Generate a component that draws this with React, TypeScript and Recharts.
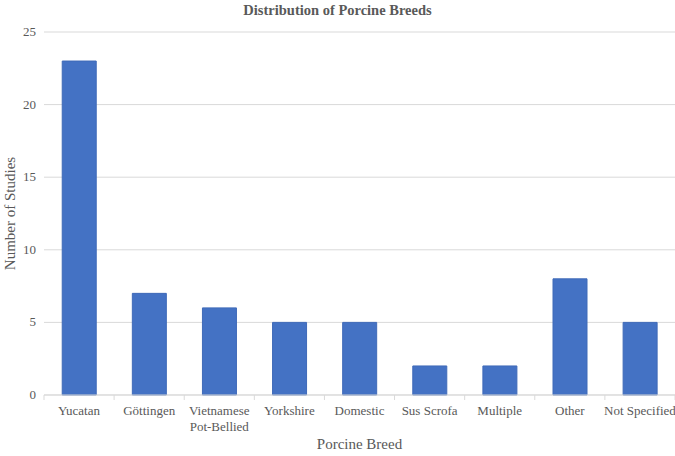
import React from 'react';
import { BarChart, Bar, XAxis, YAxis, CartesianGrid, Label } from 'recharts';

const breeds = [
  'Yucatan',
  'Göttingen',
  'Vietnamese Pot-Bellied',
  'Yorkshire',
  'Domestic',
  'Sus Scrofa',
  'Multiple',
  'Other',
  'Not Specified',
];
const studies = [23, 7, 6, 5, 5, 2, 2, 8, 5];
const yTicks = [0, 5, 10, 15, 20, 25];

const data = breeds.map((breed, i) => ({ breed, count: studies[i] }));

const font = '"Liberation Serif", "Times New Roman", serif';
const grey = '#595959';
const barColor = '#4472C4';

const CHART_W = 675;
const CHART_H = 456;
const Y_W = 44;
const band = (CHART_W - Y_W) / breeds.length;

// category labels, split on the space in long names like Excel does
const BreedTick = (props: any) => {
  const { x, y, payload } = props;
  const text: string = payload.value;
  const lines = text === 'Vietnamese Pot-Bellied' ? ['Vietnamese', 'Pot-Bellied'] : [text];
  return (
    <g>
      <line x1={x - band / 2} x2={x - band / 2} y1={y - 8} y2={y - 3} stroke="#d9d9d9" />
      {payload.index === breeds.length - 1 && (
        <line x1={x + band / 2} x2={x + band / 2} y1={y - 8} y2={y - 3} stroke="#d9d9d9" />
      )}
      <text x={x} y={y + 12} textAnchor="middle" fill={grey} fontSize={13} style={{ fontFamily: font }}>
        {lines.map((l, i) => (
          <tspan key={i} x={x} dy={i === 0 ? 0 : 16}>
            {l}
          </tspan>
        ))}
      </text>
    </g>
  );
};

const YTick = (props: any) => {
  const { x, y, payload } = props;
  return (
    <text x={x} y={y} dy={4} textAnchor="end" fill={grey} fontSize={13} style={{ fontFamily: font }}>
      {payload.value}
    </text>
  );
};

export default function App() {
  return (
    <div
      style={{
        position: 'absolute',
        left: 0,
        top: 0,
        width: CHART_W,
        height: CHART_H,
        background: '#fff',
        fontFamily: font,
      }}
    >
      <div
        style={{
          position: 'absolute',
          top: 2,
          width: CHART_W,
          textAlign: 'center',
          fontWeight: 'bold',
          fontSize: 14.5,
          color: grey,
        }}
      >
        Distribution of Porcine Breeds
      </div>
      <BarChart
        width={CHART_W}
        height={CHART_H}
        data={data}
        margin={{ top: 32, right: 0, left: 0, bottom: 26 }}
        barCategoryGap="26%"
      >
        <CartesianGrid vertical={false} stroke="#d9d9d9" />
        <XAxis
          dataKey="breed"
          interval={0}
          tickLine={false}
          axisLine={{ stroke: '#d9d9d9' }}
          tick={<BreedTick />}
          height={35}
        >
          <Label
            value="Porcine Breed"
            position="insideBottom"
            offset={-19}
            fill={grey}
            fontSize={15}
            style={{ fontFamily: font }}
          />
        </XAxis>
        <YAxis
          width={Y_W}
          domain={[0, 25]}
          ticks={yTicks}
          axisLine={false}
          tickLine={false}
          tick={<YTick />}
        >
          <Label
            value="Number of Studies"
            angle={-90}
            position="insideLeft"
            offset={0}
            dx={10}
            fill={grey}
            fontSize={15}
            style={{ textAnchor: 'middle', fontFamily: font }}
          />
        </YAxis>
        <Bar dataKey="count" fill={barColor} stroke="#3f6ab8" isAnimationActive={false} />
      </BarChart>
    </div>
  );
}
